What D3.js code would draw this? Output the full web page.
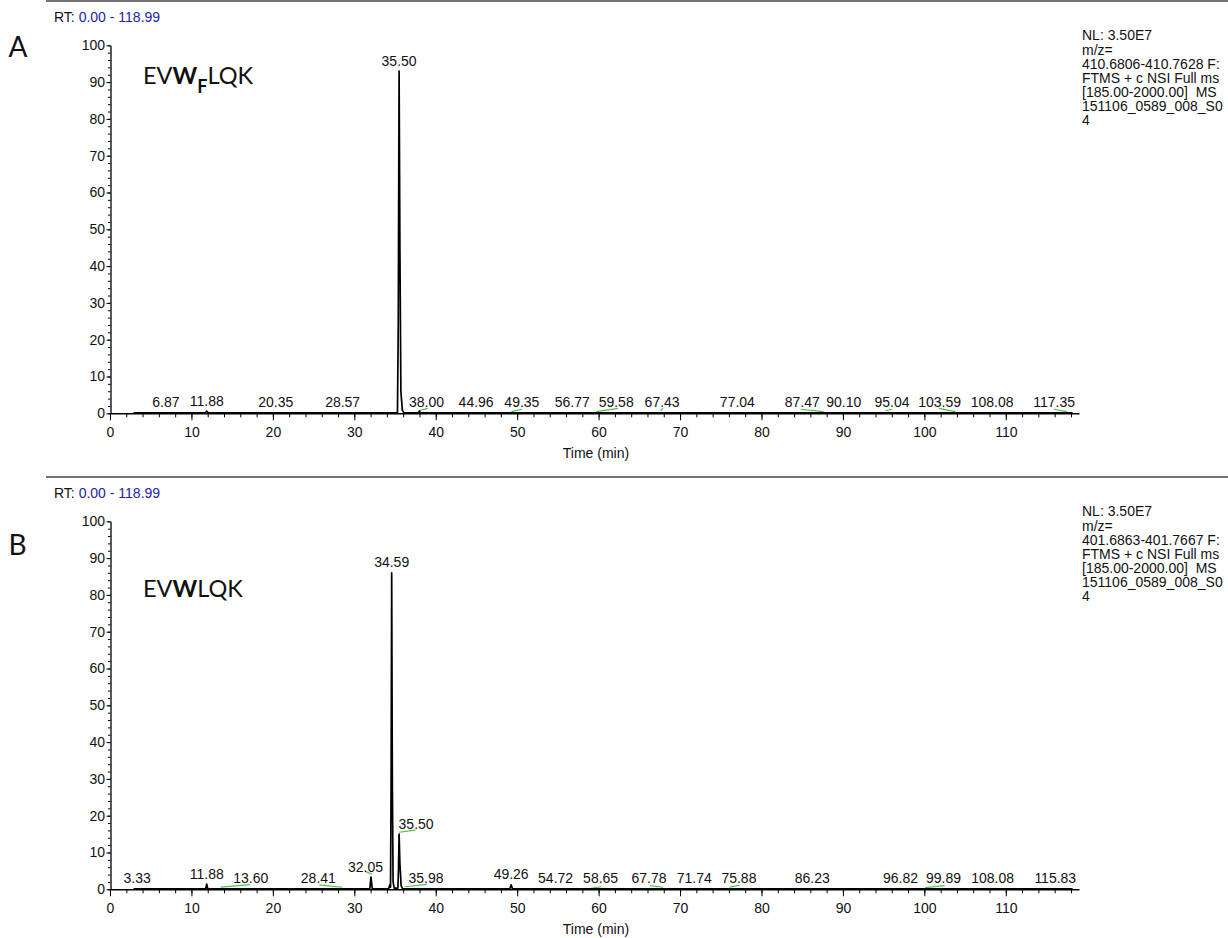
<!DOCTYPE html>
<html>
<head>
<meta charset="utf-8">
<script src="https://cdn.jsdelivr.net/npm/d3@7"></script>
<style>
  html, body { margin: 0; padding: 0; background: #fff; }
  svg { display: block; }
  .axis text { font-family: "Liberation Sans", Arial, sans-serif; font-size: 14px; fill: #111; }
  .axis path, .axis line { stroke: #000; }
  .info { white-space: pre; }
</style>
</head>
<body>
<script>
// ---- data -------------------------------------------------------------
// Retention time range and axis ticks
const rtRange = [0, 118.99];
const xMajorTicks = [0, 10, 20, 30, 40, 50, 60, 70, 80, 90, 100, 110];
const xMinorTicks = d3.range(0, 119, 2);
const yMajorTicks = [0, 10, 20, 30, 40, 50, 60, 70, 80, 90, 100];
const yMinorTicks = d3.range(0, 101, 2);

// Chromatogram traces: [time (min), relative abundance (%)]
const traceA = [
  [2.9, 0.15], [11.72, 0.15], [11.88, 0.6], [12.04, 0.15],
  [35.3, 0.15], [35.4, 25], [35.5, 93], [35.6, 45], [35.72, 6], [35.9, 0.8], [36.1, 0.15],
  [37.9, 0.15], [38.0, 0.6], [38.1, 0.15],
  [118.2, 0.15]
];
const traceB = [
  [2.9, 0.15], [11.75, 0.15], [11.88, 1.4], [12.0, 0.15],
  [31.9, 0.15], [32.05, 3.3], [32.2, 0.15],
  [34.22, 0.15], [34.35, 1.2], [34.45, 0.6], [34.52, 30], [34.59, 86], [34.67, 30],
  [34.76, 2], [34.9, 0.3],
  [35.35, 0.3], [35.42, 5], [35.5, 15], [35.6, 7], [35.75, 1], [35.92, 0.15],
  [49.1, 0.15], [49.26, 1.2], [49.42, 0.15],
  [118.2, 0.15]
];

// Labelled peaks: [apex time, apex abundance]
const peaksA = [
  [6.87, 0.1], [11.88, 0.6], [20.35, 0.1], [28.57, 0.1], [35.50, 93], [38.00, 0.1],
  [44.96, 0.1], [49.35, 0.1], [56.77, 0.1], [59.58, 0.1], [67.43, 0.1], [77.04, 0.1],
  [87.47, 0.1], [90.10, 0.1], [95.04, 0.1], [103.59, 0.1], [108.08, 0.1], [117.35, 0.1]
];
const peaksB = [
  [3.33, 0.1], [11.88, 1.4], [13.60, 0.1], [28.41, 0.1], [32.05, 3.3], [34.59, 86],
  [35.50, 15], [35.98, 0.1], [49.26, 1.2], [54.72, 0.1], [58.65, 0.1], [67.78, 0.1],
  [71.74, 0.1], [75.88, 0.1], [86.23, 0.1], [96.82, 0.1], [99.89, 0.1], [108.08, 0.1],
  [115.83, 0.1]
];

// Integration baselines: [t1, abundance1, t2, abundance2]
const baselinesA = [
  [37.9, 0.7, 39.0, 1.35], [49.3, 0.45, 50.6, 1.1], [59.7, 0.45, 62.4, 1.35],
  [67.6, 0.7, 67.9, 1.35], [84.8, 1.1, 87.6, 0.45], [95.2, 0.7, 96.0, 1.1],
  [101.8, 1.35, 103.8, 0.45], [115.9, 1.1, 117.5, 0.45]
];
const baselinesB = [
  [13.6, 0.6, 17.2, 1.25], [25.7, 1.2, 28.5, 0.55], [31.4, 4.8, 32.2, 4.1],
  [35.5, 15.5, 37.5, 16.1], [36.2, 0.7, 38.9, 1.35], [58.75, 0.15, 60.3, 0.7],
  [66.3, 1.0, 67.9, 0.55], [76.1, 0.6, 77.3, 1.1], [100.1, 0.45, 102.5, 1.0]
];

// Header / filter text
const rtText = "0.00 - 118.99";
const infoA = ["NL: 3.50E7", "m/z=", "410.6806-410.7628 F:", "FTMS + c NSI Full ms",
               "[185.00-2000.00]  MS", "151106_0589_008_S0", "4"];
const infoB = ["NL: 3.50E7", "m/z=", "401.6863-401.7667 F:", "FTMS + c NSI Full ms",
               "[185.00-2000.00]  MS", "151106_0589_008_S0", "4"];

// ---- layout -----------------------------------------------------------
const W = 1228, H = 938;
// horizontal nudges (px) applied to peak labels to keep them clear of each other
const nudgeA = { "38.00": 7, "49.35": 10, "59.58": 21, "67.43": 3, "87.47": -20,
                 "95.04": 8, "103.59": -14, "108.08": 2, "117.35": -11.5 };
const nudgeB = { "13.60": 30, "28.41": -23, "32.05": -5.5, "35.50": 17, "35.98": 23,
                 "58.65": 13, "67.78": -13, "75.88": 11, "96.82": 2, "99.89": 20,
                 "108.08": 2.5, "115.83": 2 };

const panels = [
  { off: 0,   letter: "A", letterY: 56.5, pepY: 83.5, trace: traceA, peaks: peaksA,
    base: baselinesA, info: infoA, nudge: nudgeA, sub: true },
  { off: 476, letter: "B", letterY: 555, pepY: 597, trace: traceB, peaks: peaksB,
    base: baselinesB, info: infoB, nudge: nudgeB, sub: false }
];

const svg = d3.select("body").append("svg").attr("width", W).attr("height", H);
const FONT = '"Liberation Sans", Arial, sans-serif';

const x = d3.scaleLinear().domain(rtRange).range([110, 1079]);

panels.forEach(p => {
  const o = p.off;
  const y = d3.scaleLinear().domain([0, 100]).range([413.3 + o, 45.3 + o]);
  const g = svg.append("g");

  // separator rule
  g.append("line").attr("x1", 46).attr("x2", W).attr("y1", o + 1).attr("y2", o + 1)
    .attr("stroke", "#444").attr("stroke-width", 1.4);

  // RT range header
  const rt = g.append("text").attr("x", 54).attr("y", o + 21.7)
    .attr("font-family", FONT).attr("font-size", 14).attr("fill", "#111");
  rt.append("tspan").text("RT: ");
  rt.append("tspan").attr("fill", "#2323a8").text(rtText);

  // panel letter
  g.append("text").attr("x", 8.5).attr("y", p.letterY)
    .attr("font-family", "Lato, 'Open Sans', sans-serif").attr("font-size", 28)
    .attr("fill", "#111").text(p.letter);

  // peptide name
  const pep = g.append("text").attr("x", 143).attr("y", p.pepY)
    .attr("font-family", "Lato, 'Open Sans', sans-serif").attr("font-size", 23.5)
    .attr("fill", "#111");
  pep.append("tspan").text("EV");
  pep.append("tspan").attr("font-weight", "bold").text("W");
  if (p.sub) {
    pep.append("tspan").attr("font-weight", "bold").attr("font-size", 18)
      .attr("dy", 9.5).text("F");
    pep.append("tspan").attr("dy", -9.5).text("LQK");
  } else {
    pep.append("tspan").text("LQK");
  }

  // filter info
  const infoY = [39.5, 55, 69, 83, 97, 111, 125];
  g.selectAll("text.info").data(p.info).join("text").attr("class", "info")
    .attr("x", 1082).attr("y", (d, i) => o + infoY[i])
    .attr("font-family", FONT).attr("font-size", 14).attr("fill", "#111")
    .text(d => d);

  // axes
  g.append("g").attr("class", "axis").attr("transform", `translate(0,${413.3 + o})`)
    .call(d3.axisBottom(x).tickValues(xMinorTicks).tickSize(4).tickSizeOuter(0).tickFormat(""))
    .call(a => a.select(".domain").remove());
  g.append("g").attr("class", "axis").attr("transform", `translate(0,${413.3 + o})`)
    .call(d3.axisBottom(x).tickValues(xMajorTicks).tickSize(7).tickSizeOuter(0).tickPadding(7)
      .tickFormat(d3.format("d")))
    .call(a => a.select(".domain").attr("stroke-width", 1.5))
    .call(a => a.selectAll("text").attr("font-family", FONT));

  g.append("g").attr("class", "axis").attr("transform", `translate(110.5,0)`)
    .call(d3.axisLeft(y).tickValues(yMinorTicks).tickSize(2.5).tickSizeOuter(0).tickFormat(""))
    .call(a => a.select(".domain").remove());
  g.append("g").attr("class", "axis").attr("transform", `translate(110.5,0)`)
    .call(d3.axisLeft(y).tickValues(yMajorTicks).tickSize(4).tickSizeOuter(0).tickPadding(1.5)
      .tickFormat(d3.format("d")))
    .call(a => a.select(".domain").attr("stroke-width", 1.3))
    .call(a => a.selectAll("text").attr("font-family", FONT));

  // x-axis title
  g.append("text").attr("x", 596).attr("y", 458 + o).attr("text-anchor", "middle")
    .attr("font-family", FONT).attr("font-size", 14).attr("fill", "#111").text("Time (min)");

  // integration baselines
  g.selectAll("line.base").data(p.base).join("line").attr("class", "base")
    .attr("x1", d => x(d[0])).attr("y1", d => y(d[1]))
    .attr("x2", d => x(d[2])).attr("y2", d => y(d[3]))
    .attr("stroke", "#4cbf4c").attr("stroke-width", 1.2);

  // trace
  g.append("path").datum(p.trace)
    .attr("d", d3.line().x(d => x(d[0])).y(d => y(d[1])))
    .attr("fill", "none").attr("stroke", "#000").attr("stroke-width", 1.7)
    .attr("stroke-linejoin", "round");

  // peak labels
  g.selectAll("text.peak").data(p.peaks).join("text").attr("class", "peak")
    .attr("x", d => x(d[0]) + (p.nudge[d[0].toFixed(2)] || 0))
    .attr("y", d => y(d[1]) - 5.5)
    .attr("text-anchor", "middle").attr("font-family", FONT).attr("font-size", 14)
    .attr("fill", "#111").text(d => d[0].toFixed(2));
});
</script>
</body>
</html>
